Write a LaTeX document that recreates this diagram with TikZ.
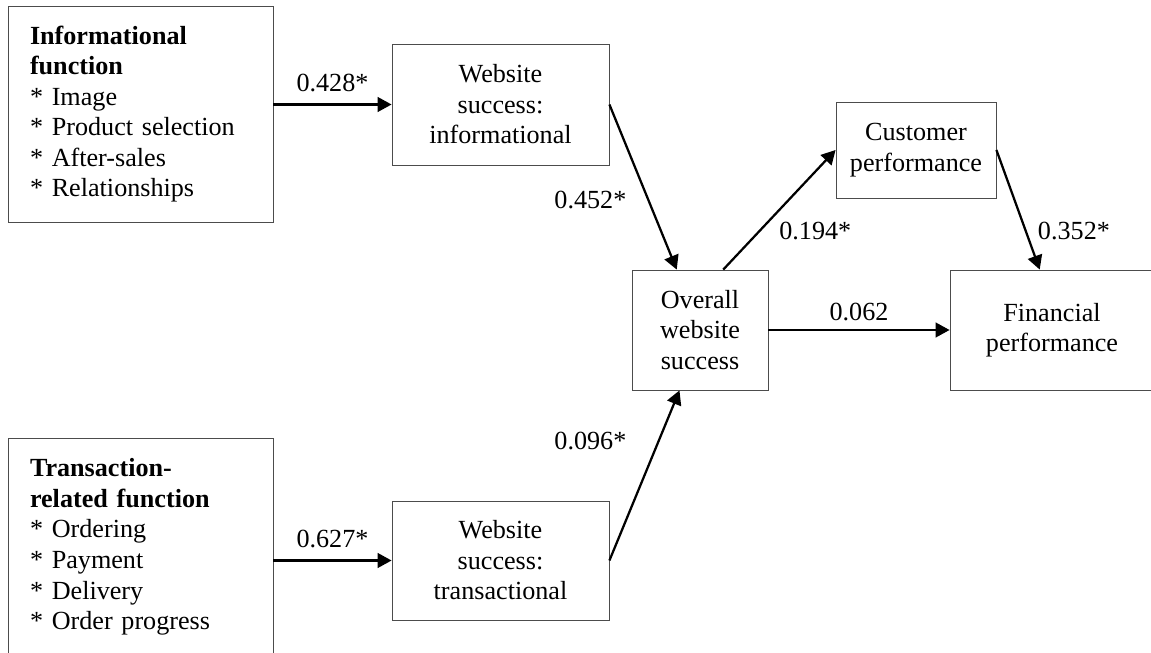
\documentclass[tikz,border=0pt]{standalone}
\usepackage{fontspec}
\setmainfont{Liberation Serif}
\usetikzlibrary{arrows.meta,calc}

\tikzset{
  box/.style={draw=black!70, line width=0.6pt, align=center, inner sep=0pt},
  fnbox/.style={box, align=left, text width=5.525cm, inner xsep=0.55cm},
  link/.style={line width=1.6pt, -{Triangle[length=10pt,width=10.5pt]}},
  coef/.style={inner sep=0pt}
}

\begin{document}
\begin{tikzpicture}[font=\fontsize{18.6}{21.7}\selectfont]
    \useasboundingbox (0,0) rectangle (28.775,16.3);

    % Website functions
    \node[fnbox, minimum height=5.4cm] (infofn) at (3.5125,13.45)
        {\textbf{Informational}\\\textbf{function}\\{}* Image\\{}* Product selection\\{}* After-sales\\{}* Relationships};
    \node[fnbox, minimum height=5.45cm] (transfn) at (3.5125,2.625)
        {\textbf{Transaction-}\\\textbf{related function}\\{}* Ordering\\{}* Payment\\{}* Delivery\\{}* Order progress};

    % Website success
    \node[box, minimum width=5.425cm, minimum height=3.025cm] (webinfo) at (12.5125,13.6875) {Website\\success:\\informational};
    \node[box, minimum width=5.425cm, minimum height=2.975cm] (webtrans) at (12.5125,2.2875) {Website\\success:\\transactional};
    \node[box, minimum width=3.4cm, minimum height=3cm] (overall) at (17.5,8.05) {Overall\\website\\success};

    % Performance
    \node[box, minimum width=4cm, minimum height=2.4cm] (customer) at (22.9,12.55) {Customer\\performance};
    \node[box, minimum width=5.1cm, minimum height=3cm] (financial) at (26.3,8.05) {Financial\\performance};

    % Paths
    \draw[link] (webinfo.west -| infofn.east) -- node[coef, midway, above=0.3cm] (c1) {0.428*} (webinfo.west);
    \draw[link] (webtrans.west -| transfn.east) -- node[coef, midway, above=0.3cm] (c2) {0.627*} (webtrans.west);
    \draw[link] (webinfo.east) -- node[coef, pos=0.58, left=0.525cm] (c3) {0.452*}
        ($(overall.north west)!0.33!(overall.north east)$);
    \draw[link] (webtrans.east) -- node[coef, pos=0.7, left=0.775cm] (c4) {0.096*}
        ($(overall.south west)!0.35!(overall.south east)$);
    \draw[link] ($(overall.north west)!0.67!(overall.north east)$) -- node[coef, pos=0.32, right=0.475cm] (c5) {0.194*} (customer.west);
    \draw[link] (customer.east) -- node[coef, pos=0.68, right=0.275cm] (c6) {0.352*}
        ($(financial.north west)!0.44!(financial.north east)$);
    \draw[link] (overall.east) -- node[coef, midway, above=0.2cm] (c7) {0.062} (financial.west);
\end{tikzpicture}
\end{document}
